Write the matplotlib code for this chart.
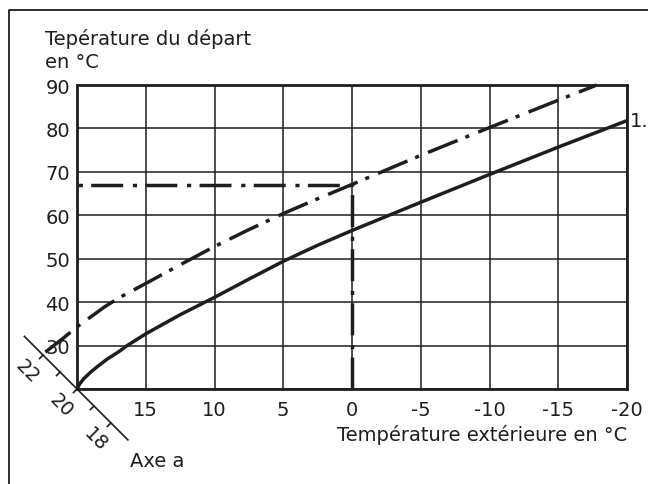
import matplotlib
matplotlib.use("Agg")
import matplotlib.pyplot as plt
import numpy as np
from matplotlib.lines import Line2D
from matplotlib import transforms

plt.rcParams['font.family'] = ['DejaVu Sans']
plt.rcParams['lines.scale_dashes'] = False

# outside temperature (°C) -> flow temperature (°C)
solid_x = [20, 19.8, 19.5, 19, 18.5, 17.8, 17, 16.35, 15, 12.5, 10, 7.5, 5, 2.5, 0, -5, -10, -15, -20]
solid_y = [20, 21.2, 22.4, 23.9, 25.2, 26.9, 28.5, 30, 32.7, 37.1, 41.1, 45.3, 49.4, 53.1, 56.5, 63.0, 69.4, 75.7, 81.8]

dashdot_x = [22.3, 21, 20, 19, 18, 17, 16, 15, 12.5, 10, 7.5, 5, 2.5, 0, -5, -10, -15, -17.8]
dashdot_y = [28.5, 31.7, 34.3, 36.6, 38.9, 40.9, 42.6, 44.3, 48.6, 52.8, 56.7, 60.4, 63.8, 67.1, 73.8, 80.2, 86.5, 90]

# reading example: 0 °C outside -> 67 °C flow
mark_x = 0
mark_y = 67

x_ticks = [20, 15, 10, 5, 0, -5, -10, -15, -20]
x_labels = ['', '15', '10', '5', '0', '-5', '-10', '-15', '-20']
y_ticks = [20, 30, 40, 50, 60, 70, 80, 90]
y_labels = ['', '30', '40', '50', '60', '70', '80', '90']

axe_a_ticks = [22, 21, 20, 19, 18]
axe_a_labels = [22, 20, 18]
curve_label = '1.5'

ink = '#1e1e1e'
dashdot = (0, (23, 6, 3, 7))
fs = 14

W, H = 648, 485
fig = plt.figure(figsize=(W / 100, H / 100), dpi=100)
ax = fig.add_axes([77 / W, 1 - 390 / H, 550 / W, 304 / H])

ax.set_xlim(20, -20)
ax.set_ylim(20, 90)
ax.set_xticks(x_ticks)
ax.set_xticklabels(x_labels)
ax.set_yticks(y_ticks)
ax.set_yticklabels(y_labels)
ax.tick_params(length=0, labelsize=fs, colors=ink)
ax.tick_params(axis='x', pad=8)
ax.tick_params(axis='y', pad=5)
ax.grid(True, color=ink, lw=1.1)
for s in ax.spines.values():
    s.set_linewidth(2.0)
    s.set_color(ink)

ax.plot(solid_x, solid_y, color=ink, lw=2.5, solid_capstyle='butt', zorder=3)
ax.plot(dashdot_x, dashdot_y, color=ink, lw=2.5, linestyle=dashdot, clip_on=False, zorder=3)
ax.plot([mark_x, mark_x, 20], [20, mark_y, mark_y], color=ink, lw=2.5, linestyle=dashdot, zorder=3)

ax.annotate(curve_label, (solid_x[-1], solid_y[-1]), xytext=(3, 0), textcoords='offset pixels',
            ha='left', va='center', fontsize=fs, color=ink, annotation_clip=False)

# axis a: diagonal scale through the origin of the chart
ox, oy = ax.transData.transform((20, 20))
along = np.array([1, -1]) / np.sqrt(2)
side = np.array([-1, -1]) / np.sqrt(2)
step = 24


def axe_a_pos(v, off=0.0):
    return np.array([ox, oy]) + (20 - v) * step * along + off * side


ident = transforms.IdentityTransform()
p0, p1 = axe_a_pos(23.1), axe_a_pos(17.0)
fig.add_artist(Line2D([p0[0], p1[0]], [p0[1], p1[1]], color=ink, lw=1.2, transform=ident))
for v in axe_a_ticks:
    a, b = axe_a_pos(v), axe_a_pos(v, 5)
    fig.add_artist(Line2D([a[0], b[0]], [a[1], b[1]], color=ink, lw=1.2, transform=ident))
for v in axe_a_labels:
    p = axe_a_pos(v, 22)
    fig.text(p[0], p[1], str(v), rotation=-45, ha='center', va='center', fontsize=fs,
             color=ink, transform=ident, rotation_mode='anchor')

# texts
fig.text(45 / W, 1 - 45 / H, 'Tepérature du départ', fontsize=fs, color=ink, va='baseline')
fig.text(45 / W, 1 - 68 / H, 'en °C', fontsize=fs, color=ink, va='baseline')
fig.text(627 / W, 1 - 441 / H, 'Température extérieure en °C', fontsize=fs, color=ink,
         va='baseline', ha='right')
fig.text(130 / W, 1 - 467 / H, 'Axe a', fontsize=fs, color=ink, va='baseline')

# outer frame (left and top edges only visible)
fig.add_artist(Line2D([9 / W, 9 / W, 1.0], [0.0, 1 - 11 / H, 1 - 11 / H], color=ink, lw=1.3,
                      transform=fig.transFigure))

fig.savefig('out.png', dpi=100)
